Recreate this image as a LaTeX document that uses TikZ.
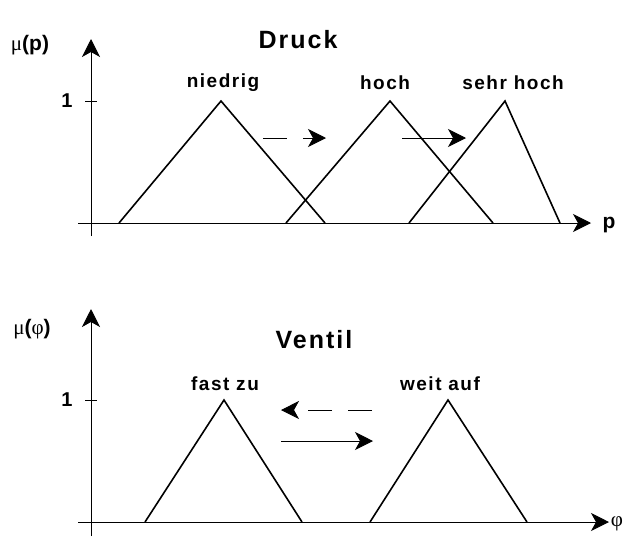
\documentclass[tikz,border=0pt]{standalone}
\usepackage{fontspec}
\setmainfont{Liberation Sans}
\newfontfamily\spfont[LetterSpace=8]{Liberation Sans}
\newfontfamily\grfont{Liberation Serif}
\usetikzlibrary{arrows.meta}
\begin{document}
\begin{tikzpicture}[x=1pt,y=-1pt,
  axis/.style={line width=1pt,-{Stealth[length=18pt,width=18pt,inset=5pt]}},
  tri/.style={line width=1.6pt,line join=miter},
  lbl/.style={font=\spfont\bfseries\fontsize{19}{21}\selectfont},
  ttl/.style={font=\spfont\bfseries\fontsize{25}{28}\selectfont},
  axlbl/.style={font=\bfseries\fontsize{21}{24}\selectfont},
  onelbl/.style={font=\bfseries\fontsize{20}{22}\selectfont},
  movearrow/.style={line width=1pt,-{Stealth[length=18pt,width=18pt,inset=5pt]}},
  dmovearrow/.style={movearrow,line width=0.8pt,dash pattern=on 24pt off 16pt}]
\useasboundingbox (0,0) rectangle (623,536);
% ---------- top: Druck ----------
\coordinate (ay0) at (91,236);
\coordinate (ay1) at (91,39);
\coordinate (ax0) at (78,223);
\coordinate (ax1) at (591,223);
\draw[axis] (ay0) -- (ay1);
\draw[axis] (ax0) -- (ax1);
\coordinate (t1a) at (85,101);
\coordinate (t1b) at (97,101);
\draw[line width=1pt] (t1a) -- (t1b);
\node[onelbl] (one1) at (67,101) {1};
\node[axlbl] (mup) at (30,45) {{\grfont\mdseries μ}(p)};
\node[axlbl] (p) at (609,225) {p};
\node[ttl] (druck) at (298,40) {Druck};
\draw[tri] (119,223) -- (221,101) -- (325,223);
\draw[tri] (286,223) -- (390,101) -- (493,223);
\draw[tri] (409,223) -- (505,101) -- (560,223);
\node[lbl] (nied) at (223,83) {niedrig};
\node[lbl] (hoch) at (385,83) {hoch};
\node[lbl] (sehr) at (513,83) {sehr hoch};
\coordinate (d1a) at (263,138);
\coordinate (d1b) at (326,138);
\draw[dmovearrow] (d1a) -- (d1b);
\coordinate (s1a) at (402,138);
\coordinate (s1b) at (466,138);
\draw[movearrow] (s1a) -- (s1b);
% ---------- bottom: Ventil ----------
\coordinate (by0) at (91,536);
\coordinate (by1) at (91,309);
\coordinate (bx0) at (78,522);
\coordinate (bx1) at (609,522);
\draw[axis] (by0) -- (by1);
\draw[axis] (bx0) -- (bx1);
\coordinate (t2a) at (85,400);
\coordinate (t2b) at (97,400);
\draw[line width=1pt] (t2a) -- (t2b);
\node[onelbl] (one2) at (67,400) {1};
\node[axlbl] (muphi) at (32,329) {{\grfont\mdseries μ}({\grfont\mdseries φ})};
\node[axlbl] (phi) at (617,524) {{\grfont\mdseries φ}};
\node[ttl] (ventil) at (314,340) {Ventil};
\draw[tri] (145,522) -- (224,400) -- (302,522);
\draw[tri] (370,522) -- (448,400) -- (527,522);
\node[lbl] (fast) at (225,384) {fast zu};
\node[lbl] (weit) at (440,384) {weit auf};
\coordinate (d2a) at (372,410);
\coordinate (d2b) at (281,410);
\draw[dmovearrow] (d2a) -- (d2b);
\coordinate (s2a) at (281,441);
\coordinate (s2b) at (373,441);
\draw[movearrow] (s2a) -- (s2b);
\end{tikzpicture}
\end{document}
